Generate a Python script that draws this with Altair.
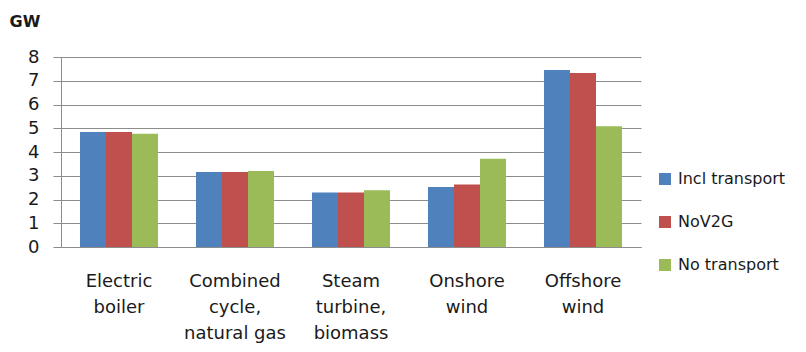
import altair as alt
import pandas as pd

categories = ["Electric boiler", "Combined cycle, natural gas", "Steam turbine, biomass", "Onshore wind", "Offshore wind"]
cat_labels = [["Electric", "boiler"], ["Combined", "cycle,", "natural gas"], ["Steam", "turbine,", "biomass"], ["Onshore", "wind"], ["Offshore", "wind"]]
series = ["Incl transport", "NoV2G", "No transport"]
incl_transport = [4.84, 3.16, 2.29, 2.53, 7.45]
nov2g = [4.84, 3.16, 2.29, 2.63, 7.33]
no_transport = [4.77, 3.20, 2.39, 3.72, 5.08]
colors = ["#4F81BD", "#C0504D", "#9BBB59"]

rows = []
for s, vals in zip(series, [incl_transport, nov2g, no_transport]):
    for c, v in zip(categories, vals):
        rows.append({"cat": c, "series": s, "value": v})
df = pd.DataFrame(rows)

label_expr = "{" + ", ".join(
    f"'{c}': [" + ", ".join(f"'{l}'" for l in ls) + "]" for c, ls in zip(categories, cat_labels)
) + "}[datum.value]"

FONT = "DejaVu Sans"
TXT = "#1a1a1a"

chart = alt.Chart(df).mark_bar().encode(
    x=alt.X("cat:N", sort=categories, title=None,
            scale=alt.Scale(paddingInner=0, paddingOuter=0),
            axis=alt.Axis(labelAngle=0, labelExpr=label_expr, labelFontSize=18, labelFont=FONT,
                          labelColor=TXT, labelLineHeight=26, labelPadding=25,
                          ticks=False, domainColor="#8c8c8c", labelBaseline="top")),
    xOffset=alt.XOffset("series:N", sort=series, scale=alt.Scale(paddingOuter=0.73, paddingInner=0)),
    y=alt.Y("value:Q", scale=alt.Scale(domain=[0, 8]),
            axis=alt.Axis(values=list(range(9)), title="GW", titleAngle=0, titleX=-52, titleY=-31,
                          titleAlign="left", titleBaseline="alphabetic", titleFont=FONT,
                          titleFontSize=16, titleFontWeight="bold", titleColor=TXT,
                          labelFontSize=18, labelFont=FONT, labelColor=TXT, labelPadding=14,
                          tickSize=8, tickColor="#8c8c8c", domainColor="#8c8c8c",
                          gridColor="#8c8c8c", gridWidth=1)),
    color=alt.Color("series:N", sort=series, scale=alt.Scale(domain=series, range=colors),
                    legend=alt.Legend(title=None, orient="none", legendX=596, legendY=114,
                                      symbolType="square", symbolSize=144, symbolStrokeWidth=0,
                                      labelFontSize=16, labelFont=FONT, labelColor=TXT,
                                      rowPadding=27, labelOffset=5)),
).properties(
    width=580, height=190,
    autosize=alt.AutoSizeParams(type="none"),
    padding={"left": 53, "top": 49, "right": 157, "bottom": 97},
).configure_view(stroke=None)

chart.save("out.html", embed_options={"renderer": "svg", "actions": False})
